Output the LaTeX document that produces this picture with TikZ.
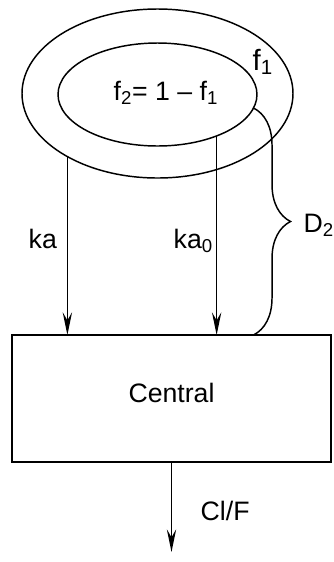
\documentclass[tikz,border=0pt]{standalone}
\usepackage{fontspec}
\setmainfont{Liberation Sans}
\usetikzlibrary{arrows.meta, shapes.geometric, decorations.pathreplacing}

\begin{document}
\begin{tikzpicture}[x=0.75pt, y=-0.75pt, line width=1.1pt,
    every node/.style={font=\fontsize{20}{24}\selectfont},
    ring/.style={draw, ellipse, inner sep=0pt, outer sep=0pt},
    lbl/.style={anchor=base west, inner sep=0pt},
    flow/.style={-{Stealth[length=17pt, width=7pt, inset=6pt]}}]
  \useasboundingbox (0,0) rectangle (334,562);
  % the two compartments and the central one
  \node[ring, minimum width=203.25pt, minimum height=126.75pt] (outer) at (157.5,93.5) {};
  \node[ring, minimum width=149.25pt, minimum height=77.25pt] (inner) at (157.5,94.5) {};
  \node[draw, inner sep=0pt, outer sep=0pt, minimum width=239.25pt, minimum height=95.25pt] (central) at (171.5,398.5) {};
  \node[anchor=base, inner sep=0pt] (centralname) at (171.5,402) {Central};
  \node[lbl, font=\fontsize{22}{26}\selectfont] (fone) at (252,70) {f\textsubscript{1}};
  \node[lbl] (ftwo) at (113,100) {f\textsubscript{2}= 1 – f\textsubscript{1}};
  % absorption
  \draw[flow] (outer.215.4) -- (outer.215.4 |- central.north);
  \draw[flow] (inner.325.2) -- (inner.325.2 |- central.north);
  \node[lbl] (ka) at (28,248) {ka};
  \node[lbl] (kazero) at (173,248) {ka\textsubscript{0}};
  % delay
  \draw[decorate, decoration={brace, amplitude=27.75pt}] (inner.352) -- (inner.352 |- central.north);
  \node[lbl] (dtwo) at (303,232) {D\textsubscript{2}};
  % elimination
  \coordinate (out) at (171.5,552);
  \draw[flow] (central.south) -- (out);
  \node[lbl] (clf) at (200,520) {Cl/F};
\end{tikzpicture}
\end{document}
